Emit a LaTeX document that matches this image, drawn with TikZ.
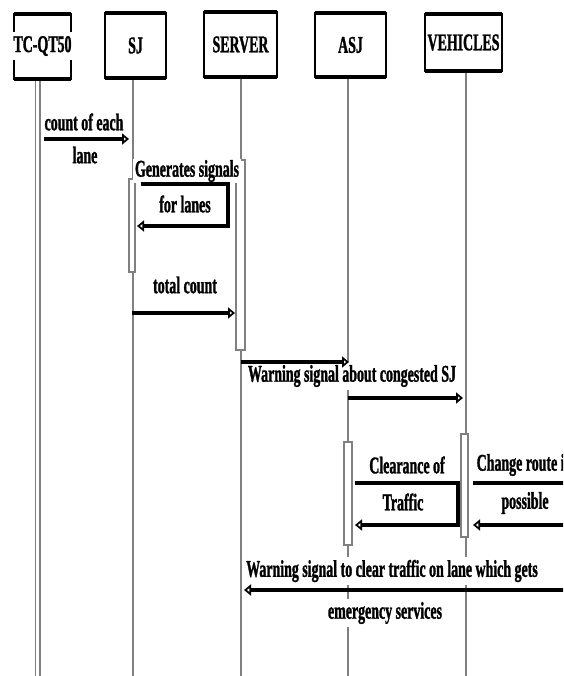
\documentclass[tikz,border=0pt]{standalone}
\usepackage{fontspec}
\setmainfont{Liberation Serif}[FakeStretch=0.58, FakeBold=1.2]
\usetikzlibrary{arrows.meta}

\begin{document}
\begin{tikzpicture}[x=1pt,y=-1pt,
  lbl/.style={font=\fontsize{24}{25}\selectfont\bfseries, inner sep=1.5pt, fill=white},
  headbox/.style={draw=black, line width=2.2pt, fill=white, inner sep=0pt, outer sep=0pt,
    font=\fontsize{24}{25}\selectfont\bfseries},
  headedge/.style={draw=black, line width=3.4pt},
  life/.style={draw=black!50, line width=1.7pt},
  act/.style={draw=black!50, line width=2.2pt, fill=white, inner sep=0pt, outer sep=0pt},
  msg/.style={draw=black, line width=3.3pt,
    -{Triangle[open, length=7pt, width=11pt, line width=2.4pt]}}
]
\path[use as bounding box] (0,0) rectangle (563,676);
\clip (0,0) rectangle (563,676);

% lifeline end points
\coordinate (tcTopA) at (35.5,80);  \coordinate (tcEndA) at (35.5,676);
\coordinate (tcTopB) at (40,80);    \coordinate (tcEndB) at (40,676);
\coordinate (sjTop)  at (133,79);   \coordinate (sjEnd)  at (133,676);
\coordinate (svTop)  at (241,78);   \coordinate (svEnd)  at (241,676);
\coordinate (asTop)  at (348,78);   \coordinate (asEnd)  at (348,676);
\coordinate (veTop)  at (466,72);   \coordinate (veEnd)  at (466,676);

\draw[life] (tcTopA) -- (tcEndA);
\draw[life] (tcTopB) -- (tcEndB);
\draw[life] (sjTop) -- (sjEnd);
\draw[life] (svTop) -- (svEnd);
\draw[life] (asTop) -- (asEnd);
\draw[life] (veTop) -- (veEnd);

% participants
\node[headbox, minimum width=57pt, minimum height=65pt] (tc) at (42.5,46.5) {};
\node[headbox, minimum width=61pt, minimum height=65pt] (sj) at (135.5,45.5) {SJ};
\node[headbox, minimum width=73pt, minimum height=65pt] (sv) at (240.5,44.5) {SERVER};
\node[headbox, minimum width=71pt, minimum height=64pt] (as) at (350.5,45) {ASJ};
\node[headbox, minimum width=77pt, minimum height=57pt] (ve) at (463.5,42.5) {VEHICLES};
\foreach \p in {tc,sj,sv,as,ve}{
  \draw[headedge] (\p.north west) -- (\p.north east);
  \draw[headedge] (\p.south west) -- (\p.south east);
}
\node[lbl, inner sep=4pt] (tcName) at (42.5,46) {TC-QT50};

% activation bars
\node[act, minimum width=6pt, minimum height=93pt]  (sjAct) at (132,225.5) {};
\node[act, minimum width=9pt, minimum height=190pt] (svAct) at (240.5,255) {};
\node[act, minimum width=8pt, minimum height=103pt] (asAct) at (348,493.5) {};
\node[act, minimum width=7pt, minimum height=103pt] (veAct) at (464.5,485.5) {};

% message labels
\node[lbl] (m1a) at (84,122) {count of each};
\node[lbl] (m1b) at (85,155) {lane};
\node[lbl] (m2a) at (187,171) {Generates signals};
\node[lbl] (m2b) at (185,204) {for lanes};
\node[lbl] (m3) at (185,285) {total count};
\node[lbl, inner sep=3pt] (m4) at (352,376) {Warning signal about congested SJ};
\node[lbl] (m5a) at (407,465) {Clearance of};
\node[lbl] (m5b) at (403,502) {Traffic};
\node[lbl, anchor=west] (m6a) at (475,465) {Change route i};
\node[lbl] (m6b) at (525,503) {possible};
\node[lbl, inner sep=3pt] (m7a) at (392,571) {Warning signal to clear traffic on lane which gets};
\node[lbl, inner sep=3pt] (m7b) at (385,613) {emergency services};

% message end points
\coordinate (c1s) at (44,139);   \coordinate (c1e) at (129,139);
\coordinate (c2s) at (141,184);  \coordinate (c2r) at (228,184);
\coordinate (c2d) at (228,226);  \coordinate (c2e) at (137,226);
\coordinate (c3s) at (132,313);  \coordinate (c3e) at (235,313);
\coordinate (c4s) at (241,362);  \coordinate (c4e) at (349,362);
\coordinate (c5s) at (348,398);  \coordinate (c5e) at (463,398);
\coordinate (c6s) at (355,483);  \coordinate (c6r) at (458,483);
\coordinate (c6d) at (458,525);  \coordinate (c6e) at (355,525);
\coordinate (c7s) at (473,483);  \coordinate (c7r) at (600,483);
\coordinate (c7d) at (600,525);  \coordinate (c7e) at (473,525);
\coordinate (c8s) at (600,590);  \coordinate (c8e) at (244,590);

% messages
\draw[msg] (c1s) -- (c1e);
\draw[msg] (c2s) -- (c2r) -- (c2d) -- (c2e);
\draw[msg] (c3s) -- (c3e);
\draw[msg] (c4s) -- (c4e);
\draw[msg] (c5s) -- (c5e);
\draw[msg] (c6s) -- (c6r) -- (c6d) -- (c6e);
\draw[msg] (c7s) -- (c7r) -- (c7d) -- (c7e);
\draw[msg] (c8s) -- (c8e);
\end{tikzpicture}
\end{document}
